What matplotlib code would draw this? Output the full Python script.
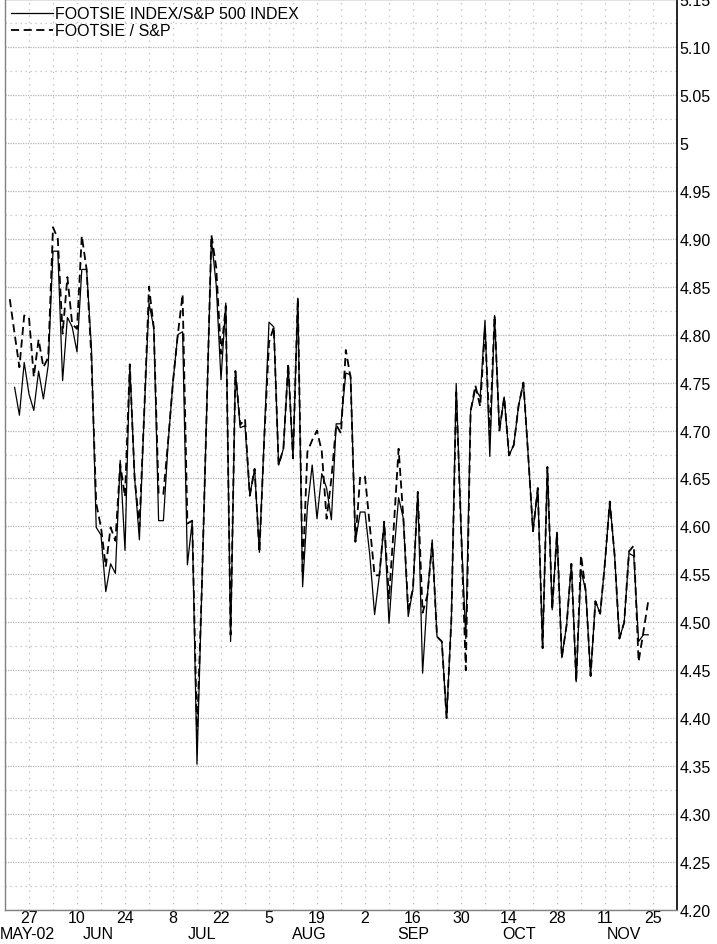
import numpy as np
import pandas as pd
import matplotlib
matplotlib.use("Agg")
import matplotlib.pyplot as plt
from matplotlib.ticker import FixedLocator, FuncFormatter
import matplotlib.transforms as mtransforms

plt.rcParams['font.family'] = ['Liberation Sans', 'DejaVu Sans']

# ---- data (business days starting Tue 21 May 2002) ----
start_date = "2002-05-21"
ratio_dashed = [
    4.837, 4.801, 4.766, 4.820, 4.818, 4.756, 4.795, 4.766, 4.776, 4.912,
    4.900, 4.801, 4.860, 4.811, 4.806, 4.903, 4.868, 4.776, 4.624, 4.599,
    4.558, 4.599, 4.585, 4.665, 4.631, 4.769, 4.651, 4.600, 4.718, 4.850,
    4.807, 4.634, 4.634, 4.690, 4.751, 4.800, 4.842, 4.603, 4.606, 4.383,
    4.535, 4.717, 4.904, 4.870, 4.780, 4.830, 4.487, 4.762, 4.706, 4.712,
    4.632, 4.660, 4.573, 4.690, 4.792, 4.808, 4.664, 4.681, 4.770, 4.671,
    4.838, 4.550, 4.678, 4.690, 4.700, 4.678, 4.608, 4.650, 4.706, 4.697,
    4.784, 4.755, 4.584, 4.652, 4.652, 4.600, 4.549, 4.549, 4.605, 4.525,
    4.600, 4.681, 4.608, 4.514, 4.535, 4.636, 4.510, 4.528, 4.582, 4.485,
    4.480, 4.400, 4.504, 4.740, 4.600, 4.450, 4.720, 4.747, 4.725, 4.807,
    4.695, 4.820, 4.700, 4.735, 4.674, 4.685, 4.726, 4.750, 4.674, 4.595,
    4.640, 4.473, 4.662, 4.513, 4.594, 4.463, 4.497, 4.561, 4.438, 4.570,
    4.532, 4.444, 4.522, 4.509, 4.563, 4.626, 4.570, 4.483, 4.500, 4.574,
    4.580, 4.459, 4.490, 4.522,
]
ratio_solid = [
    np.nan, 4.745, 4.716, 4.771, 4.738, 4.721, 4.762, 4.733, 4.768, 4.887,
    4.887, 4.752, 4.818, 4.808, 4.782, 4.868, 4.868, 4.787, 4.599, 4.591,
    4.532, 4.561, 4.551, 4.669, 4.575, 4.769, 4.651, 4.586, 4.718, 4.833,
    4.807, 4.606, 4.606, 4.688, 4.751, 4.800, 4.803, 4.560, 4.605, 4.352,
    4.535, 4.717, 4.900, 4.852, 4.753, 4.833, 4.480, 4.762, 4.703, 4.705,
    4.632, 4.660, 4.573, 4.693, 4.813, 4.808, 4.664, 4.681, 4.768, 4.671,
    4.838, 4.537, 4.620, 4.664, 4.608, 4.655, 4.640, 4.607, 4.707, 4.707,
    4.760, 4.758, 4.584, 4.615, 4.615, 4.570, 4.508, 4.549, 4.605, 4.499,
    4.570, 4.630, 4.608, 4.506, 4.535, 4.636, 4.447, 4.528, 4.586, 4.485,
    4.480, 4.400, 4.504, 4.749, 4.600, 4.483, 4.720, 4.743, 4.735, 4.815,
    4.673, 4.820, 4.700, 4.735, 4.674, 4.685, 4.726, 4.750, 4.674, 4.595,
    4.640, 4.473, 4.662, 4.513, 4.594, 4.463, 4.497, 4.561, 4.438, 4.555,
    4.532, 4.444, 4.522, 4.509, 4.563, 4.626, 4.570, 4.483, 4.500, 4.572,
    4.569, 4.480, 4.487, 4.487,
]
series_labels = ["FOOTSIE INDEX/S&P 500 INDEX", "FOOTSIE / S&P"]
day_labels = ["27", "10", "24", "8", "22", "5", "19", "2", "16", "30", "14", "28", "11", "25"]
month_labels = ["MAY-02", "JUN", "JUL", "AUG", "SEP", "OCT", "NOV"]

FS = 11.5

# ---- x positions: business-day index relative to Mon 27 May 2002 ----
dates = pd.bdate_range(start_date, periods=len(ratio_dashed))
anchor = pd.Timestamp("2002-05-27")
xpos = np.array([np.busday_count(anchor.date(), d.date()) for d in dates])

fig = plt.figure(figsize=(7.17, 9.45), dpi=100)
ax = fig.add_axes([5/717, 34/945, 672/717, 911/945])

ax.set_xlim(-5, 135)
ax.set_ylim(4.20, 5.15)

# grid
for v in np.arange(4.20, 5.151, 0.05):
    ax.axhline(v, color='#b4b4b4', lw=0.9, ls=(0, (1, 1)), zorder=0)
for v in np.arange(4.225, 5.15, 0.05):
    ax.axhline(v, color='#bcbcbc', lw=0.9, ls=(0, (1, 3)), zorder=0)
for xv in np.arange(0, 131, 5):
    ax.axvline(xv, color='#bcbcbc', lw=0.9, ls=(0, (1, 4)), zorder=0)

l1, = ax.plot(xpos, ratio_solid, color='black', lw=0.9, zorder=3, label=series_labels[0])
l2, = ax.plot(xpos, ratio_dashed, color='black', lw=1.3, ls=(0, (4.5, 2.5)), zorder=2,
              label=series_labels[1])

# y axis on right
ax.yaxis.tick_right()
yt = np.round(np.arange(4.20, 5.151, 0.05), 2)
ax.yaxis.set_major_locator(FixedLocator(yt))
ax.yaxis.set_major_formatter(FuncFormatter(lambda v, p: "5" if abs(v - 5) < 1e-6 else f"{v:.2f}"))
ax.tick_params(axis='y', length=0, pad=2, labelsize=FS)

# x axis
ax.xaxis.set_major_locator(FixedLocator(np.arange(0, 131, 10)))
ax.set_xticklabels(day_labels)
ax.tick_params(axis='x', length=0, pad=0, labelsize=FS)

# month labels
all_days = pd.bdate_range("2002-05-20", "2002-11-29")
all_idx = np.array([np.busday_count(anchor.date(), d.date()) for d in all_days])
trans = mtransforms.blended_transform_factory(ax.transData, ax.transAxes)
months = all_days.month
ymon = -23.5 / 911
for k, m in enumerate(sorted(set(months))):
    idx = all_idx[months == m]
    if k == 0:
        ax.text(-6.0, ymon, month_labels[k], transform=trans, ha='left', va='center', fontsize=FS)
    else:
        ax.text(idx.mean(), ymon, month_labels[k], transform=trans, ha='center', va='center',
                fontsize=FS)

for s in ['left', 'top', 'bottom']:
    ax.spines[s].set_color('#808080')
    ax.spines[s].set_linewidth(1.0)
ax.spines['right'].set_color('black')
ax.spines['right'].set_linewidth(1.2)

ax.legend(handles=[l1, l2], loc='upper left', frameon=False, fontsize=FS,
          handlelength=2.6, handletextpad=0.15, labelspacing=0.12,
          borderaxespad=0.0, bbox_to_anchor=(0.0, 0.999))

fig.savefig("out.png", dpi=100)
